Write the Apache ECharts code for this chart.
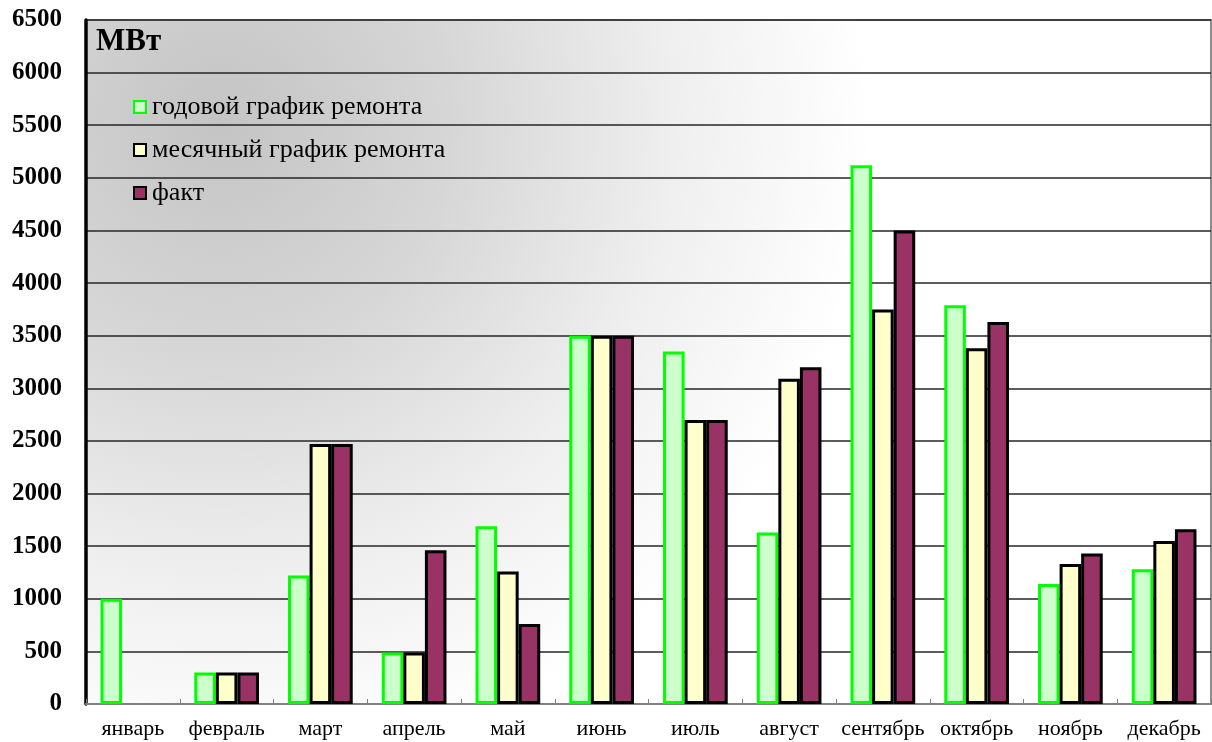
<!DOCTYPE html>
<html>
<head>
<meta charset="utf-8">
<script src="https://cdn.jsdelivr.net/npm/echarts@6/dist/echarts.min.js"></script>
<style>
  html, body { margin: 0; padding: 0; background: #ffffff; }
  #chart { width: 1212px; height: 742px; }
</style>
</head>
<body>
<div id="chart"></div>
<script>
// Месяцы года
const months = ['январь', 'февраль', 'март', 'апрель', 'май', 'июнь',
                'июль', 'август', 'сентябрь', 'октябрь', 'ноябрь', 'декабрь'];

// Мощность в ремонте, МВт
const yearPlan  = [1000, 300, 1220, 490, 1690, 3500, 3350, 1630, 5120, 3790, 1140, 1280];
const monthPlan = [null, 300, 2470, 490, 1260, 3500, 2700, 3090, 3750, 3380, 1330, 1550];
const actual    = [null, 300, 2470, 1460, 760, 3500, 2700, 3200, 4500, 3630, 1430, 1660];

const seriesNames = ['годовой график ремонта', 'месячный график ремонта', 'факт'];
const unitLabel = 'МВт';

const serif = '"Liberation Serif", "Times New Roman", serif';

const chart = echarts.init(document.getElementById('chart'), null, { renderer: 'canvas' });

chart.setOption({
  animation: false,
  backgroundColor: '#ffffff',
  title: {
    text: unitLabel,
    left: 96,
    top: 26,
    padding: 0,
    textStyle: { fontFamily: serif, fontWeight: 'bold', fontSize: 31, color: '#000' }
  },
  legend: {
    orient: 'vertical',
    left: 133,
    top: 94,
    padding: 0,
    itemGap: 17,
    itemWidth: 12,
    itemHeight: 12,
    icon: 'rect',
    textStyle: { fontFamily: serif, fontSize: 26, color: '#000', lineHeight: 26, padding: [0, 0, 0, 1] },
    data: seriesNames
  },
  grid: {
    left: 86,
    right: 1,
    top: 20,
    bottom: 38,
    show: true,
    borderColor: '#8c8c8c',
    borderWidth: 2,
    backgroundColor: new echarts.graphic.RadialGradient(0.12, 0.15, 0.95, [
      { offset: 0, color: '#c4c4c4' },
      { offset: 0.35, color: '#d6d6d6' },
      { offset: 0.7, color: '#efefef' },
      { offset: 1, color: '#ffffff' }
    ])
  },
  xAxis: {
    type: 'category',
    data: months,
    axisLine: { lineStyle: { color: '#808080', width: 2 } },
    axisTick: { show: true, inside: true, length: 5, lineStyle: { color: '#808080', width: 1 } },
    axisLabel: { interval: 0, fontFamily: serif, fontSize: 22, color: '#000', margin: 14 }
  },
  yAxis: {
    type: 'value',
    min: 0,
    max: 6500,
    interval: 500,
    axisLine: { show: true, lineStyle: { color: '#000', width: 3.5 } },
    axisTick: { show: false },
    axisLabel: {
      fontFamily: serif, fontSize: 25, fontWeight: 'bold', color: '#000', margin: 24,
      formatter: (v) => String(v)
    },
    splitLine: { show: true, lineStyle: { color: '#262626', width: 1.5 } }
  },
  series: [
    {
      name: seriesNames[0],
      type: 'bar',
      data: yearPlan,
      barGap: '0%',
      barCategoryGap: '31%',
      itemStyle: { color: '#ccffcc', borderColor: '#00ff00', borderWidth: 3 }
    },
    {
      name: seriesNames[1],
      type: 'bar',
      data: monthPlan,
      barGap: '0%',
      barCategoryGap: '31%',
      itemStyle: { color: '#ffffcc', borderColor: '#000000', borderWidth: 3 }
    },
    {
      name: seriesNames[2],
      type: 'bar',
      data: actual,
      barGap: '0%',
      barCategoryGap: '31%',
      itemStyle: { color: '#993366', borderColor: '#000000', borderWidth: 3 }
    }
  ]
});
</script>
</body>
</html>
